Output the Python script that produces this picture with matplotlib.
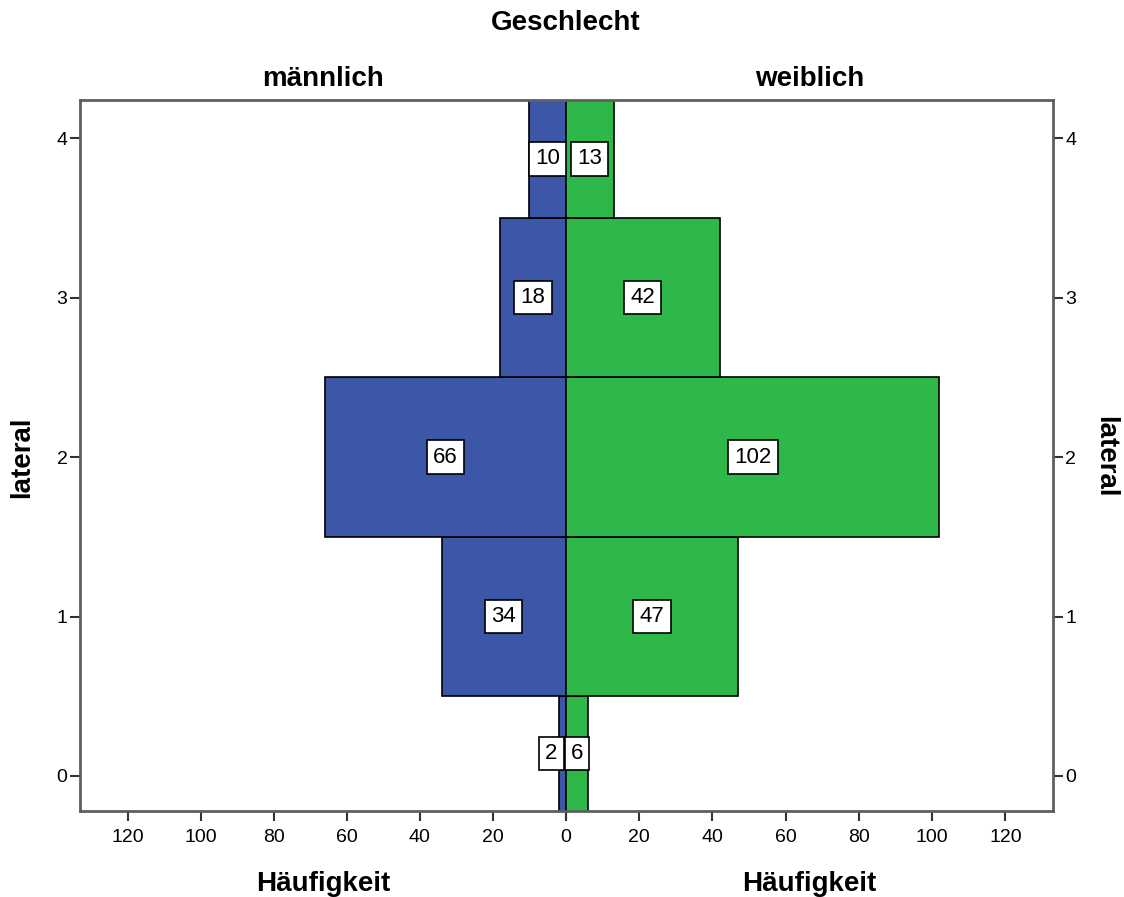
import matplotlib as mplt
import matplotlib.pyplot as plt

mplt.use("Agg")

plt.rcParams["font.family"] = ["Liberation Sans", "DejaVu Sans"]

# data
lateral = [0, 1, 2, 3, 4]
maennlich = [2, 34, 66, 18, 10]
weiblich = [6, 47, 102, 42, 13]
xticks = [0, 20, 40, 60, 80, 100, 120]

blue = "#3d57a8"
green = "#2eb84a"
frame = "#5f5f5f"

ymin, ymax = -0.22, 4.24
xmax = 133

fig = plt.figure(figsize=(11.24, 8.97), dpi=100)
axl = fig.add_axes([80 / 1124, 86 / 897, 486 / 1124, 711 / 897])
axr = fig.add_axes([566 / 1124, 86 / 897, 487 / 1124, 711 / 897])

box = dict(boxstyle="square,pad=0.28", facecolor="white", edgecolor="black", linewidth=1.2)


def label_y(y):
    # label sits in the middle of the visible part of the bar
    lo = max(y - 0.5, ymin)
    hi = min(y + 0.5, ymax)
    return (lo + hi) / 2


for ax, vals, col, side in [(axl, maennlich, blue, -1), (axr, weiblich, green, 1)]:
    ax.barh(lateral, vals, height=1.0, color=col, edgecolor="black", linewidth=1.2, zorder=2)
    for y, v in zip(lateral, vals):
        if v < 5:
            # too thin: push the box off the centre line
            ax.annotate(str(v), (0, label_y(y)), xytext=(6 * side, 0), textcoords="offset points",
                        ha="left" if side > 0 else "right", va="center", fontsize=16, zorder=3, bbox=box)
        else:
            ax.text(v / 2, label_y(y), str(v), ha="center", va="center", fontsize=16, zorder=3, bbox=box)
    ax.set_ylim(ymin, ymax)
    ax.set_yticks(lateral)
    ax.tick_params(axis="x", labelsize=14, length=7, width=1.5, color="#333333", pad=6)
    ax.tick_params(axis="y", labelsize=14, length=7, width=1.5, color="#333333", pad=2)
    ax.set_xlabel("Häufigkeit", fontsize=20, fontweight="bold", labelpad=18)
    for s in ax.spines.values():
        s.set_color(frame)
        s.set_linewidth(2)

# left panel
axl.set_xlim(xmax, 0)
axl.set_xticks(xticks)
axl.spines["right"].set_visible(False)
axl.yaxis.tick_left()
axl.set_title("männlich", fontsize=20, fontweight="bold", pad=10)

# right panel (shared 0 is labelled once, by the left panel)
axr.set_xlim(0, xmax)
axr.set_xticks(xticks, [""] + [str(t) for t in xticks[1:]])
axr.spines["left"].set_visible(False)
axr.yaxis.tick_right()
axr.set_title("weiblich", fontsize=20, fontweight="bold", pad=10)

fig.text(22 / 1124, 1 - 457 / 897, "lateral", rotation=90, ha="center", va="center",
         fontsize=20, fontweight="bold")
fig.text(1105 / 1124, 1 - 457 / 897, "lateral", rotation=-90, ha="center", va="center",
         fontsize=20, fontweight="bold")
fig.text(566 / 1124, 1 - 23 / 897, "Geschlecht", ha="center", va="center", fontsize=20, fontweight="bold")

plt.savefig("out.png", dpi=100)
